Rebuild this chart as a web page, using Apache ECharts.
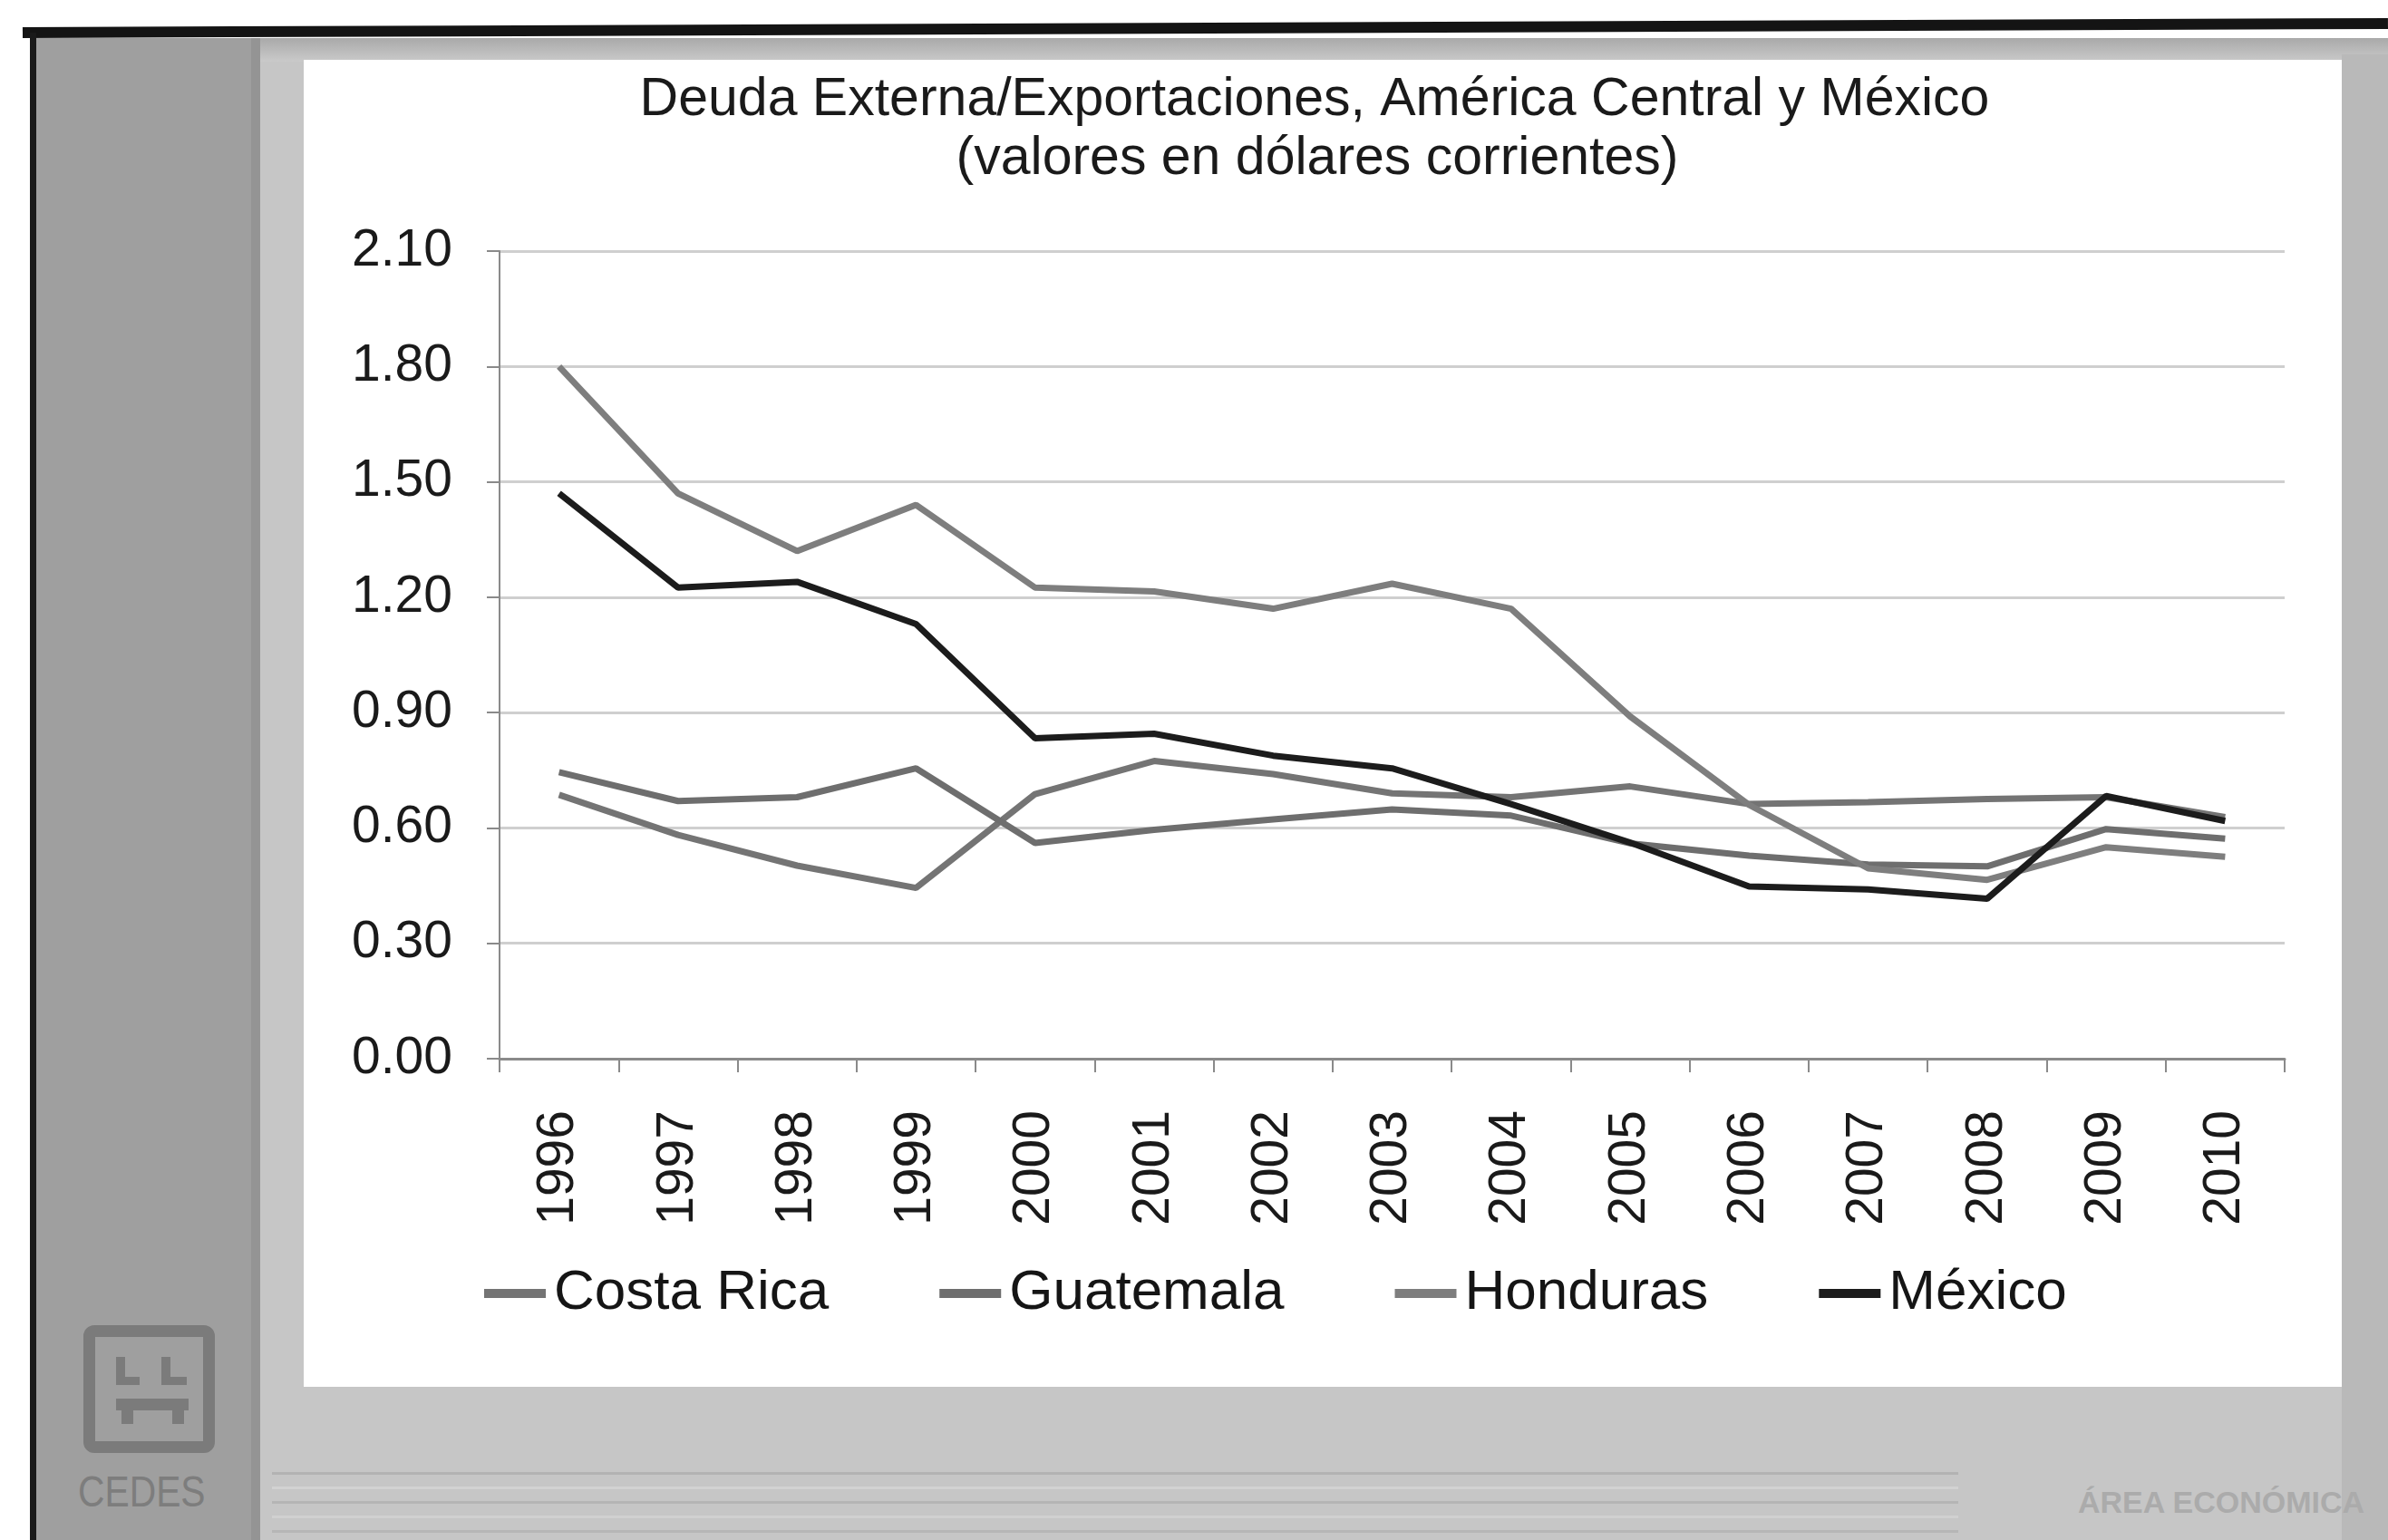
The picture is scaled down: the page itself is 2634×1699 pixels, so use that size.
<!DOCTYPE html>
<html>
<head>
<meta charset="utf-8">
<script src="https://cdn.jsdelivr.net/npm/echarts@6/dist/echarts.min.js"></script>
<style>
  html, body { margin: 0; padding: 0; background: #ffffff; }
  body { width: 2634px; height: 1699px; position: relative; overflow: hidden; font-family: 'Liberation Sans', Arial, sans-serif; }
  .abs { position: absolute; }
  #chart { position: absolute; left: 0; top: 0; width: 2634px; height: 1699px; }
</style>
</head>
<body>
<!-- slide frame -->
<div class="abs" style="left:40px;top:42px;width:243px;height:1657px;background:#9f9f9f;"></div>
<div class="abs" style="left:277px;top:42px;width:10px;height:1657px;background:#949494;"></div>
<div class="abs" style="left:287px;top:42px;width:2347px;height:1657px;background:#c6c6c6;"></div>
<div class="abs" style="left:287px;top:42px;width:2347px;height:26px;background:linear-gradient(#a9a9a9,#cacaca);"></div>
<div class="abs" style="left:2583px;top:60px;width:51px;height:1639px;background:#b9b9b9;"></div>
<div class="abs" style="left:335px;top:66px;width:2248px;height:1464px;background:#ffffff;"></div>
<div class="abs" style="left:25px;top:30px;width:2609px;height:12px;background:#141414;transform:rotate(-0.22deg);transform-origin:0 100%;"></div>
<div class="abs" style="left:33px;top:36px;width:7px;height:1663px;background:#1a1a1a;"></div>
<!-- footer stripes -->
<div class="abs" style="left:300px;top:1624px;width:1860px;height:3px;background:#b3b3b3;"></div>
<div class="abs" style="left:300px;top:1640px;width:1860px;height:3px;background:#d2d2d2;"></div>
<div class="abs" style="left:300px;top:1656px;width:1860px;height:3px;background:#b5b5b5;"></div>
<div class="abs" style="left:300px;top:1672px;width:1860px;height:3px;background:#d0d0d0;"></div>
<div class="abs" style="left:300px;top:1688px;width:1860px;height:3px;background:#b6b6b6;"></div>
<div class="abs" style="left:2292px;top:1638px;font-size:34px;font-weight:bold;color:#ababab;white-space:nowrap;">ÁREA ECONÓMICA</div>
<!-- CEDES logo -->
<div class="abs" style="left:92px;top:1462px;width:119px;height:115px;border:13px solid #7b7b7b;border-radius:12px;"></div>
<div class="abs" style="left:128px;top:1497px;width:10px;height:30px;background:#7b7b7b;"></div>
<div class="abs" style="left:128px;top:1519px;width:26px;height:9px;background:#7b7b7b;"></div>
<div class="abs" style="left:178px;top:1497px;width:10px;height:30px;background:#7b7b7b;"></div>
<div class="abs" style="left:178px;top:1519px;width:28px;height:9px;background:#7b7b7b;"></div>
<div class="abs" style="left:128px;top:1543px;width:80px;height:13px;background:#7b7b7b;"></div>
<div class="abs" style="left:134px;top:1543px;width:13px;height:28px;background:#7b7b7b;"></div>
<div class="abs" style="left:190px;top:1543px;width:13px;height:28px;background:#7b7b7b;"></div>
<div class="abs" style="left:86px;top:1618px;font-size:48px;color:#7d7d7d;white-space:nowrap;transform:scaleX(0.85);transform-origin:0 0;">CEDES</div>

<div id="chart"></div>
<script>
// Years on the category axis
const years = ['1996','1997','1998','1999','2000','2001','2002','2003','2004','2005','2006','2007','2008','2009','2010'];

// External debt / exports ratio by country
const costaRica = [0.686, 0.582, 0.502, 0.444, 0.688, 0.774, 0.740, 0.690, 0.680, 0.708, 0.662, 0.667, 0.675, 0.680, 0.628];
const guatemala = [0.745, 0.670, 0.680, 0.755, 0.561, 0.595, 0.622, 0.648, 0.632, 0.560, 0.528, 0.505, 0.500, 0.597, 0.572];
const honduras  = [1.800, 1.470, 1.320, 1.440, 1.225, 1.215, 1.170, 1.235, 1.170, 0.890, 0.660, 0.495, 0.465, 0.550, 0.525];
const mexico    = [1.470, 1.225, 1.240, 1.130, 0.833, 0.845, 0.788, 0.755, 0.662, 0.562, 0.448, 0.440, 0.416, 0.683, 0.618];

const seriesNames = ['Costa Rica', 'Guatemala', 'Honduras', 'México'];
const seriesData = [costaRica, guatemala, honduras, mexico];
const seriesColors = ['#747474', '#6e6e6e', '#7e7e7e', '#1c1c1c'];

const titleLines = ['Deuda Externa/Exportaciones, América Central y México', '(valores en dólares corrientes)'];

const FONT = "'Liberation Sans', Arial, sans-serif";
const chart = echarts.init(document.getElementById('chart'), null, { renderer: 'canvas' });

chart.setOption({
  backgroundColor: 'transparent',
  animation: false,
  graphic: [
    { type: 'text', x: 1450, y: 111, style: { text: titleLines[0], font: '59px ' + FONT, fill: '#1a1a1a', textAlign: 'center', textVerticalAlign: 'middle' } },
    { type: 'text', x: 1453, y: 176, style: { text: titleLines[1], font: '59px ' + FONT, fill: '#1a1a1a', textAlign: 'center', textVerticalAlign: 'middle' } }
  ],
  grid: { left: 551, right: 114, top: 277, bottom: 531, containLabel: false },
  legend: {
    data: seriesNames,
    left: 529,
    top: 1391,
    icon: 'rect',
    itemWidth: 68,
    itemHeight: 10,
    itemGap: 122,
    textStyle: { fontSize: 62, fontFamily: FONT, color: '#151515', padding: [0, 0, 0, 4] }
  },
  xAxis: {
    type: 'category',
    data: years,
    boundaryGap: true,
    axisLine: { lineStyle: { color: '#8a8a8a', width: 3 } },
    axisTick: { show: true, length: 15, lineStyle: { color: '#8a8a8a', width: 2 } },
    axisLabel: { rotate: 90, margin: 57, fontSize: 57, fontFamily: FONT, color: '#1a1a1a' }
  },
  yAxis: {
    type: 'value',
    min: 0,
    max: 2.1,
    interval: 0.3,
    axisLine: { show: true, lineStyle: { color: '#8a8a8a', width: 2 } },
    axisTick: { show: true, length: 14, lineStyle: { color: '#8a8a8a', width: 2 } },
    axisLabel: { margin: 52, fontSize: 57, fontFamily: FONT, color: '#1a1a1a', formatter: v => v.toFixed(2) },
    splitLine: { lineStyle: { color: '#cfcfcf', width: 3 } }
  },
  series: seriesNames.map((name, i) => ({
    name: name,
    type: 'line',
    data: seriesData[i],
    showSymbol: false,
    symbol: 'none',
    color: seriesColors[i],
    lineStyle: { width: 7, color: seriesColors[i] },
    z: 2 + i
  }))
});
</script>
</body>
</html>
